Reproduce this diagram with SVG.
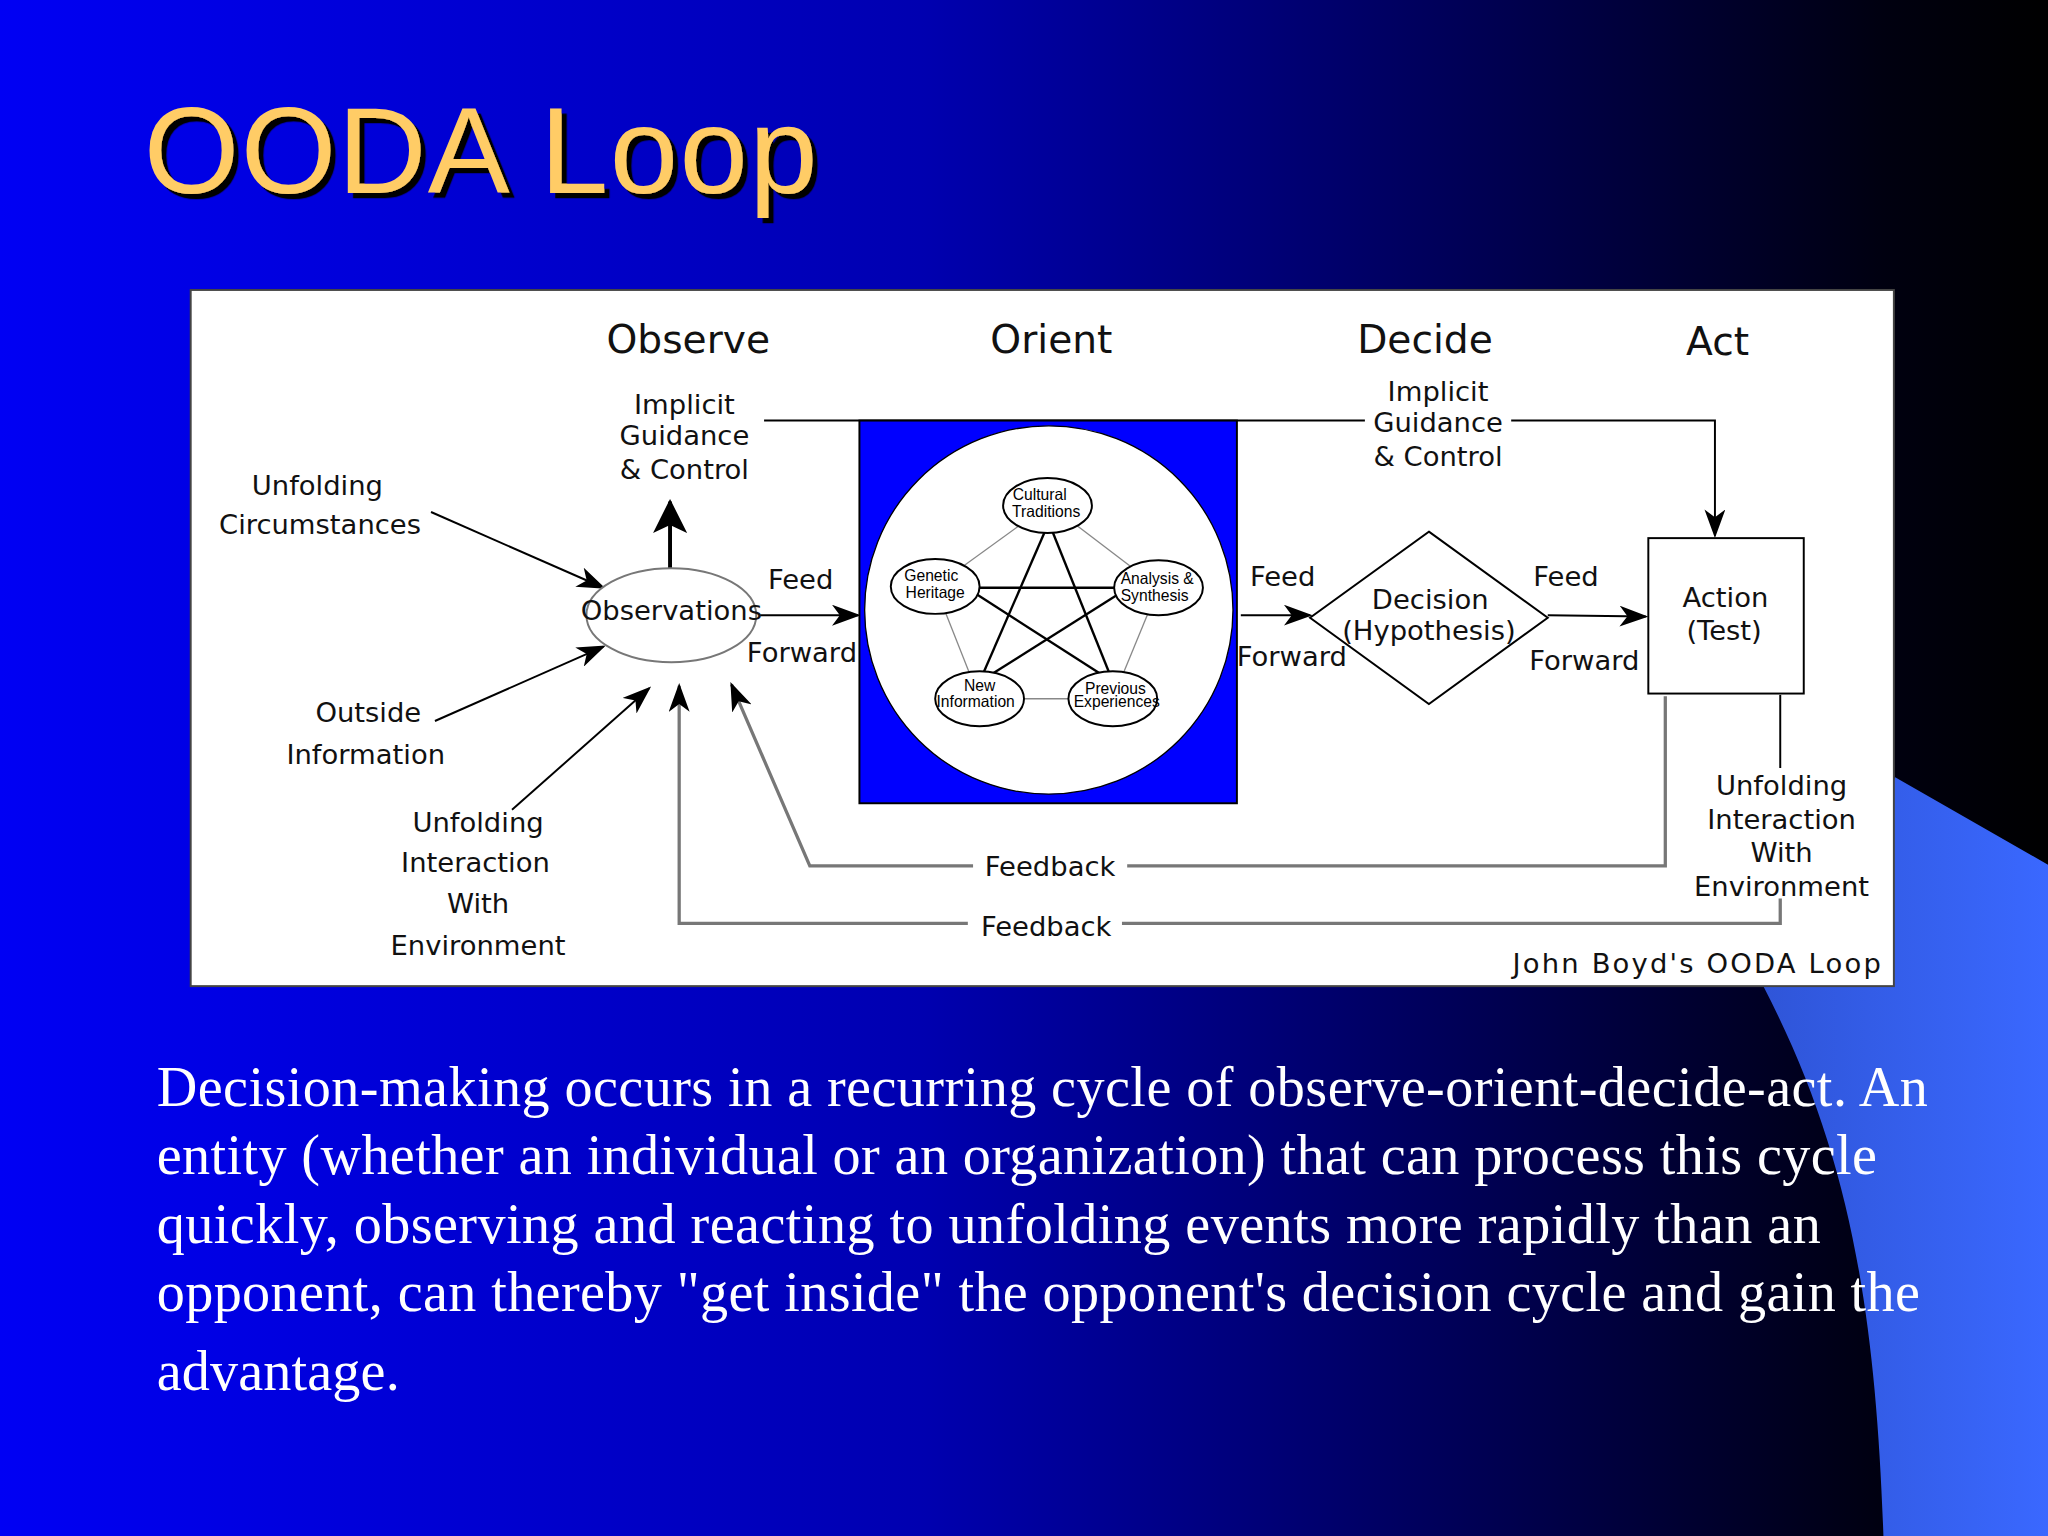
<svg xmlns="http://www.w3.org/2000/svg" width="2048" height="1536" viewBox="0 0 2048 1536">
<defs>
<linearGradient id="bg" x1="0" y1="0" x2="1" y2="0">
<stop offset="0" stop-color="#0000f4"/><stop offset="0.45" stop-color="#0000b0"/><stop offset="0.92" stop-color="#000010"/><stop offset="1" stop-color="#000000"/>
</linearGradient>
<linearGradient id="sh" x1="0" y1="0" x2="1" y2="0">
<stop offset="0" stop-color="#2f55d8"/><stop offset="1" stop-color="#3a68ff"/>
</linearGradient>
<filter id="ds" x="-5%" y="-20%" width="115%" height="150%">
<feDropShadow dx="4" dy="4" stdDeviation="0" flood-color="#000"/>
</filter>
<marker id="ah" markerWidth="22" markerHeight="16" refX="20" refY="8" orient="auto" markerUnits="userSpaceOnUse">
<path d="M0,0 L22,8 L0,16 L6,8 Z" fill="#000"/>
</marker>
<marker id="ahb" markerWidth="26" markerHeight="26" refX="24" refY="13" orient="auto" markerUnits="userSpaceOnUse">
<path d="M0,0 L26,13 L0,26 L6,13 Z" fill="#000"/>
</marker>
<style>
.d{font-family:"DejaVu Sans","Liberation Sans",sans-serif;font-size:21px;fill:#111;text-anchor:middle}
.h{font-size:30px}
.s{font-family:"Liberation Sans",Arial,sans-serif;font-size:12px;fill:#000;text-anchor:middle}
.ln{stroke:#000;stroke-width:1.5;fill:none}
.gl{stroke:#777;stroke-width:2.5;fill:none}
.body{font-family:"Liberation Serif","Times New Roman",serif;font-size:43px;fill:#fff}
.el{fill:#fff;stroke:#000;stroke-width:1.5}
</style>
</defs>
<rect width="2048" height="1536" fill="url(#bg)"/>
<g transform="scale(1.306122)">
<path d="M1451,595 L1568,662 L1568,1176 L1442,1176 C1436,1000 1415,880 1350,755 Z" fill="url(#sh)"/>
<g id="title">
<text x="110" y="148" font-family="Liberation Sans,Arial,sans-serif" font-size="94" fill="#ffcc66" filter="url(#ds)" textLength="516">OODA Loop</text>
</g>
<rect x="146" y="222" width="1304" height="533" fill="#fff" stroke="#444" stroke-width="1.5"/>
<g id="headers">
<text class="d h" x="527" y="270">Observe</text>
<text class="d h" x="805" y="270">Orient</text>
<text class="d h" x="1091" y="270">Decide</text>
<text class="d h" x="1315" y="272">Act</text>
</g>
<g id="connectors">
<polyline class="ln" points="585,322 1313,322 1313,410" marker-end="url(#ah)"/>
<line class="ln" x1="330" y1="392" x2="462" y2="450" marker-end="url(#ah)"/>
<line class="ln" x1="333" y1="552" x2="462" y2="495" marker-end="url(#ah)"/>
<line class="ln" x1="392" y1="620" x2="497" y2="527" marker-end="url(#ah)"/>
<line x1="513" y1="436" x2="513" y2="384" stroke="#000" stroke-width="3" marker-end="url(#ahb)"/>
<line class="ln" x1="582" y1="471" x2="657" y2="471" marker-end="url(#ah)"/>
<line class="ln" x1="950" y1="471" x2="1003" y2="471" marker-end="url(#ah)"/>
<line class="ln" x1="1185" y1="471" x2="1260" y2="472" marker-end="url(#ah)"/>
<polyline class="gl" points="1275,533 1275,663 620,663 560,524" marker-end="url(#ah)"/>
<polyline class="ln" points="1363,532 1363,588"/>
<polyline class="gl" points="1363,688 1363,707 520,707 520,525" stroke-width="2" marker-end="url(#ah)"/>
</g>
<g id="implicit-left">
<text class="d" x="524" y="317">Implicit</text>
<text class="d" x="524" y="341">Guidance</text>
<text class="d" x="524" y="367">&amp; Control</text>
</g>
<g id="implicit-right">
<rect x="1045" y="286" width="112" height="70" fill="#fff"/>
<text class="d" x="1101" y="307">Implicit</text>
<text class="d" x="1101" y="331">Guidance</text>
<text class="d" x="1101" y="357">&amp; Control</text>
</g>
<g id="unfolding-circ"><text class="d" x="243" y="379">Unfolding</text><text class="d" x="245" y="409">Circumstances</text></g>
<g id="outside"><text class="d" x="282" y="553">Outside</text><text class="d" x="280" y="585">Information</text></g>
<g id="unfolding-left">
<text class="d" x="366" y="637">Unfolding</text><text class="d" x="364" y="668">Interaction</text><text class="d" x="366" y="699">With</text><text class="d" x="366" y="731">Environment</text>
</g>
<g id="observations">
<ellipse cx="514" cy="471" rx="65" ry="36" fill="#fff" stroke="#777" stroke-width="1.5"/>
<text class="d" x="514" y="475" font-size="17">Observations</text>
</g>
<g id="ff1"><text class="d" x="613" y="451">Feed</text><text class="d" x="614" y="507">Forward</text></g>
<g id="orient">
<rect x="658" y="322" width="289" height="293" fill="#0000ff" stroke="#000" stroke-width="1.5"/>
<circle cx="803" cy="467" r="141" fill="#fff" stroke="#000" stroke-width="1"/>
<g stroke="#888" stroke-width="1">
<line x1="803" y1="386" x2="716" y2="449"/><line x1="803" y1="386" x2="887" y2="450"/>
<line x1="716" y1="449" x2="750" y2="535"/><line x1="887" y1="450" x2="852" y2="535"/>
<line x1="750" y1="535" x2="852" y2="535"/>
</g>
<g stroke="#000" stroke-width="1.8">
<line x1="803" y1="400" x2="750" y2="522"/><line x1="803" y1="400" x2="852" y2="522"/>
<line x1="740" y1="450" x2="864" y2="450"/><line x1="740" y1="450" x2="852" y2="522"/>
<line x1="864" y1="450" x2="750" y2="522"/>
</g>
<g id="cultural"><ellipse class="el" cx="802" cy="387" rx="34" ry="21"/><text class="s" x="796" y="383">Cultural</text><text class="s" x="801" y="396">Traditions</text></g>
<g id="genetic"><ellipse class="el" cx="716" cy="449" rx="34" ry="21"/><text class="s" x="713" y="445">Genetic</text><text class="s" x="716" y="458">Heritage</text></g>
<g id="analysis"><ellipse class="el" cx="887" cy="450" rx="34" ry="21"/><text class="s" x="886" y="447">Analysis &amp;</text><text class="s" x="884" y="460">Synthesis</text></g>
<g id="newinfo"><ellipse class="el" cx="750" cy="535" rx="34" ry="21"/><text class="s" x="750" y="529">New</text><text class="s" x="747" y="541">Information</text></g>
<g id="previous"><ellipse class="el" cx="852" cy="535" rx="34" ry="21"/><text class="s" x="854" y="531">Previous</text><text class="s" x="855" y="541">Experiences</text></g>
</g>
<g id="ff2"><text class="d" x="982" y="449">Feed</text><text class="d" x="989" y="510">Forward</text></g>
<g id="decision">
<polygon points="1094,407 1185,473 1094,539 1003,473" fill="#fff" stroke="#000" stroke-width="1.5"/>
<text class="d" x="1095" y="466" font-size="19">Decision</text>
<text class="d" x="1094" y="490" font-size="19">(Hypothesis)</text>
</g>
<g id="ff3"><text class="d" x="1199" y="449">Feed</text><text class="d" x="1213" y="513">Forward</text></g>
<g id="action">
<rect x="1262" y="412" width="119" height="119" fill="#fff" stroke="#000" stroke-width="1.5"/>
<text class="d" x="1321" y="465" font-size="24">Action</text>
<text class="d" x="1320" y="490" font-size="24">(Test)</text>
</g>
<g id="unfolding-right">
<text class="d" x="1364" y="609">Unfolding</text><text class="d" x="1364" y="635">Interaction</text><text class="d" x="1364" y="660">With</text><text class="d" x="1364" y="686">Environment</text>
</g>
<g id="feedback-labels">
<rect x="745" y="652" width="118" height="24" fill="#fff"/><text class="d" x="804" y="671">Feedback</text>
<rect x="741" y="696" width="118" height="24" fill="#fff"/><text class="d" x="801" y="717">Feedback</text>
</g>
<text class="d" x="1440" y="745" style="text-anchor:end" textLength="282">John Boyd's OODA Loop</text>
<g id="body">
<text class="body" x="120" y="847" textLength="1356">Decision-making occurs in a recurring cycle of observe-orient-decide-act. An</text>
<text class="body" x="120" y="899" textLength="1317">entity (whether an individual or an organization) that can process this cycle</text>
<text class="body" x="120" y="952" textLength="1274">quickly, observing and reacting to unfolding events more rapidly than an</text>
<text class="body" x="120" y="1004" textLength="1350">opponent, can thereby "get inside" the opponent's decision cycle and gain the</text>
<text class="body" x="120" y="1064" textLength="186">advantage.</text>
</g>
</g>
</svg>
